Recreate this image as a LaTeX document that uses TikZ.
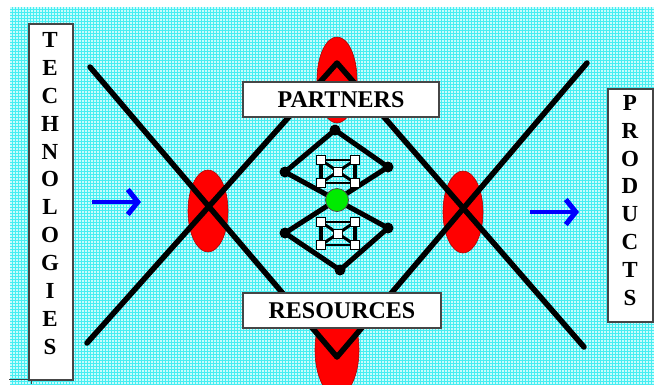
\documentclass[tikz,border=0pt]{standalone}
\usepackage{fontspec}
\setmainfont{Liberation Serif}
\usetikzlibrary{arrows.meta}
\definecolor{bgc}{RGB}{200,252,252}
\definecolor{gridc}{RGB}{70,238,242}
\definecolor{ovalred}{RGB}{255,0,0}
\definecolor{dotgreen}{RGB}{0,235,0}
\begin{document}
\begin{tikzpicture}[x=1pt,y=-1pt,
  bigline/.style={line width=5.5pt,line cap=round,line join=round},
  innerline/.style={line width=5pt,line cap=round,line join=round},
  redoval/.style={fill=ovalred,draw=ovalred!70!black,line width=0.6pt},
  vdot/.style={fill=black},
  labelbox/.style={draw=gray!55!black,fill=white,line width=1.2pt,inner sep=0pt,
    font=\bfseries\fontsize{24}{28}\selectfont},
  vtext/.style={align=center,inner sep=0pt,font=\bfseries\fontsize{23}{27.9}\selectfont},
  bluearrow/.style={draw=blue,line width=4.5pt,-{Straight Barb[length=10pt,width=25pt,line width=5pt]}},
  neticon/.pic={
    \draw[line width=1.5pt] (-17,-11.5) rectangle (17,11.5);
    \draw[line width=3pt] (-17,-11.5) -- (17,11.5) (-17,11.5) -- (17,-11.5);
    \draw[line width=3.5pt] (-17,-11.5) -- (-17,11.5) (17,-11.5) -- (17,11.5);
    \foreach \px/\py in {-17/-11.5,17/-11.5,-17/11.5,17/11.5,0/0}
      \filldraw[fill=white,draw=black,line width=0.8pt] (\px-4.5,\py-4.5) rectangle (\px+4.5,\py+4.5);
  }
]
\useasboundingbox (0,0) rectangle (654,384);
% background
\fill[bgc] (10,7) rectangle (654,384);
\draw[gridc,line width=0.8pt,step=3pt] (10,7) grid (654,384);
\draw[gray!50!black,line width=0.8pt] (9,379.5) -- (31,379.5) -- (31,384);

% red ovals
\draw[redoval] (337,80) ellipse [x radius=20, y radius=43];
\draw[redoval] (337,350) ellipse [x radius=22, y radius=46];
\draw[redoval] (208,211) ellipse [x radius=20, y radius=41];
\draw[redoval] (463,212) ellipse [x radius=20, y radius=41];

% big diamond with arms
\coordinate (ul) at (90,67);
\coordinate (ll) at (87,343);
\coordinate (ur) at (587,63);
\coordinate (lr) at (584,347);
\coordinate (top) at (337,63);
\coordinate (bot) at (337,357);
\draw[bigline] (ul) -- (bot) -- (ur);
\draw[bigline] (ll) -- (top) -- (lr);

% inner diamonds
\coordinate (it) at (335,130);
\coordinate (il) at (285,172);
\coordinate (ir) at (388,167);
\coordinate (jl) at (285,233);
\coordinate (jr) at (388,228);
\coordinate (jb) at (340,270);
\draw[innerline] (il) -- (it) -- (ir);
\draw[innerline] (il) -- (jr);
\draw[innerline] (ir) -- (jl);
\draw[innerline] (jl) -- (jb) -- (jr);
\foreach \c in {it,il,ir,jl,jr,jb} \fill[vdot] (\c) circle (5.5);

% network icons
\pic at (338,171.5) {neticon};
\pic at (338,233.5) {neticon};

% green centre
\node[circle,fill=dotgreen,draw=black!70,line width=0.8pt,minimum size=23pt,inner sep=0pt] (g) at (337,200) {};

% label boxes
\node[labelbox,minimum width=196pt,minimum height=35pt] (partners) at (341,99.5) {PARTNERS};
\node[labelbox,minimum width=198pt,minimum height=35pt] (resources) at (342,310.5) {RESOURCES};
\node[labelbox,minimum width=44pt,minimum height=356pt] (techbox) at (51,202) {};
\node[vtext] (techtext) at (50,193.5) {T\\E\\C\\H\\N\\O\\L\\O\\G\\I\\E\\S};
\node[labelbox,minimum width=45pt,minimum height=233pt] (prodbox) at (630.5,205.5) {};
\node[vtext] (prodtext) at (630,200.5) {P\\R\\O\\D\\U\\C\\T\\S};

% blue arrows
\coordinate (a1s) at (92,202);
\coordinate (a1e) at (141,202);
\coordinate (a2s) at (530,212);
\coordinate (a2e) at (579,212);
\draw[bluearrow] (a1s) -- (a1e);
\draw[bluearrow] (a2s) -- (a2e);
\end{tikzpicture}
\end{document}
